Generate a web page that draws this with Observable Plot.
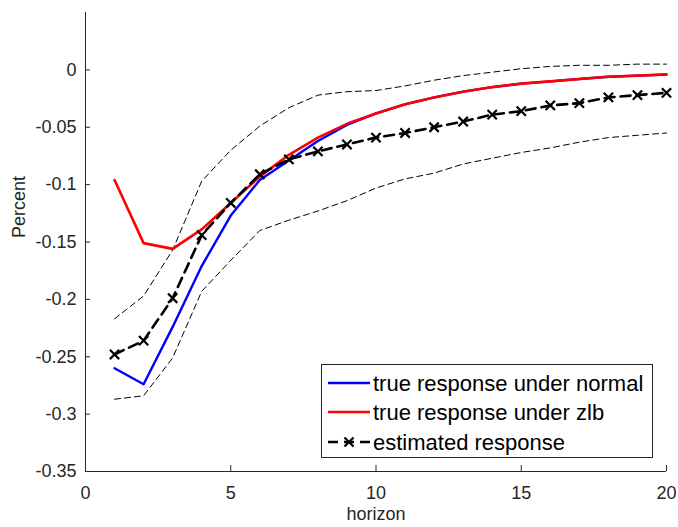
<!DOCTYPE html>
<html><head><meta charset="utf-8">
<script src="https://cdn.jsdelivr.net/npm/d3@7"></script>
<script src="https://cdn.jsdelivr.net/npm/@observablehq/plot@0.6"></script>
<style>
html,body{margin:0;padding:0;background:#fff;}
#wrap{position:relative;width:678px;height:527px;}
#legend{position:absolute;left:321px;top:364px;}
</style></head><body><div id="wrap"></div>
<script>
const horizon = [1,2,3,4,5,6,7,8,9,10,11,12,13,14,15,16,17,18,19,20];
const normalResp = [-0.260,-0.274,-0.224,-0.171,-0.127,-0.096,-0.079,-0.062,-0.048,-0.038,-0.030,-0.024,-0.019,-0.015,-0.012,-0.010,-0.008,-0.006,-0.005,-0.004];
const zlbResp = [-0.096,-0.151,-0.156,-0.139,-0.116,-0.093,-0.074,-0.059,-0.047,-0.038,-0.030,-0.024,-0.019,-0.015,-0.012,-0.010,-0.008,-0.006,-0.005,-0.004];
const estResp = [-0.248,-0.236,-0.199,-0.144,-0.116,-0.091,-0.078,-0.071,-0.065,-0.059,-0.055,-0.050,-0.045,-0.039,-0.036,-0.031,-0.029,-0.024,-0.022,-0.020];
const upperBand = [-0.217,-0.197,-0.157,-0.097,-0.070,-0.049,-0.033,-0.022,-0.019,-0.018,-0.014,-0.009,-0.005,-0.002,0.001,0.003,0.004,0.004,0.005,0.005];
const lowerBand = [-0.287,-0.284,-0.251,-0.193,-0.166,-0.140,-0.131,-0.123,-0.114,-0.103,-0.095,-0.090,-0.082,-0.077,-0.072,-0.068,-0.063,-0.059,-0.057,-0.055];
const xTicks = [0,5,10,15,20];
const yTicks = [-0.35,-0.3,-0.25,-0.2,-0.15,-0.1,-0.05,0];
const legendLabels = ["true response under normal","true response under zlb","estimated response"];
const legendColors = ["#0000ff","#ff0000","#000000"];
const legendDash = [null,null,"10,6"];

const rows = horizon.map((h,i)=>({h, normal: normalResp[i], zlb: zlbResp[i], est: estResp[i], upper: upperBand[i], lower: lowerBand[i]}));
const fmt = d => Math.abs(d) < 1e-9 ? "0" : String(+d.toFixed(2));
const axisColor = "#262626";
const font = "'Liberation Sans', Arial, sans-serif";

const chart = Plot.plot({
  width: 678, height: 527,
  marginLeft: 85, marginRight: 12, marginTop: 12, marginBottom: 56,
  style: {fontFamily: font, fontSize: "18px", color: axisColor, background: "#fff"},
  x: {domain: [0, 20]},
  y: {domain: [-0.35, 0.05]},
  marks: [
    Plot.lineY(rows, {x: "h", y: "upper", stroke: "black", strokeWidth: 1, strokeDasharray: "6,4"}),
    Plot.lineY(rows, {x: "h", y: "lower", stroke: "black", strokeWidth: 1, strokeDasharray: "6,4"}),
    Plot.lineY(rows, {x: "h", y: "normal", stroke: "#0000ff", strokeWidth: 2.4}),
    Plot.lineY(rows, {x: "h", y: "zlb", stroke: "#ff0000", strokeWidth: 2.6}),
    Plot.lineY(rows, {x: "h", y: "est", stroke: "black", strokeWidth: 2.6, strokeDasharray: "10,6"}),
    Plot.dot(rows, {x: "h", y: "est", symbol: "times", r: 4.3, stroke: "black", strokeWidth: 2.2}),
    Plot.ruleX([0], {stroke: axisColor}),
    Plot.ruleY([-0.35], {stroke: axisColor}),
    Plot.axisX(xTicks, {tickSize: 6, dy: -6, tickFormat: () => "", label: null, stroke: axisColor}),
    Plot.axisX(xTicks, {tickSize: 0, tickPadding: 15, tickFormat: fmt, label: null, fontSize: 18, fill: axisColor}),
    Plot.axisY(yTicks, {tickSize: 5, dx: 5, tickFormat: () => "", label: null, stroke: axisColor}),
    Plot.axisY(yTicks, {tickSize: 0, tickPadding: 9, tickFormat: fmt, label: null, fontSize: 18, fill: axisColor}),
    Plot.text(["horizon"], {text: d => d, frameAnchor: "bottom", dy: 48, fontSize: 18, fill: axisColor}),
    Plot.text(["Percent"], {text: d => d, frameAnchor: "left", dx: -66, dy: -4, rotate: -90, fontSize: 18, fill: axisColor})
  ]
});
const wrap = document.getElementById("wrap");
wrap.appendChild(chart);

// legend
const lg = d3.create("svg").attr("id", "legend").attr("width", 332).attr("height", 94)
  .style("position", "absolute").style("left", "321px").style("top", "364px");
lg.append("rect").attr("x", 0.5).attr("y", 0.5).attr("width", 331).attr("height", 93)
  .attr("fill", "#fff").attr("stroke", axisColor);
const rowY = [19, 48, 78];
legendLabels.forEach((lab, i) => {
  const g = lg.append("g");
  g.append("line").attr("x1", 7).attr("x2", 49).attr("y1", rowY[i]).attr("y2", rowY[i])
    .attr("stroke", legendColors[i]).attr("stroke-width", i === 2 ? 2.6 : 2.4)
    .attr("stroke-dasharray", legendDash[i]);
  if (i === 2) {
    g.append("path").attr("d", d3.symbol(d3.symbolTimes, 55)()).attr("transform", `translate(28,${rowY[i]})`)
      .attr("stroke", "black").attr("stroke-width", 2.2).attr("fill", "none");
  }
  g.append("text").attr("x", 52).attr("y", rowY[i]).attr("dy", "0.35em")
    .attr("font-family", font).attr("font-size", 22).attr("fill", "#000").text(lab);
});
wrap.appendChild(lg.node());
</script></body></html>
